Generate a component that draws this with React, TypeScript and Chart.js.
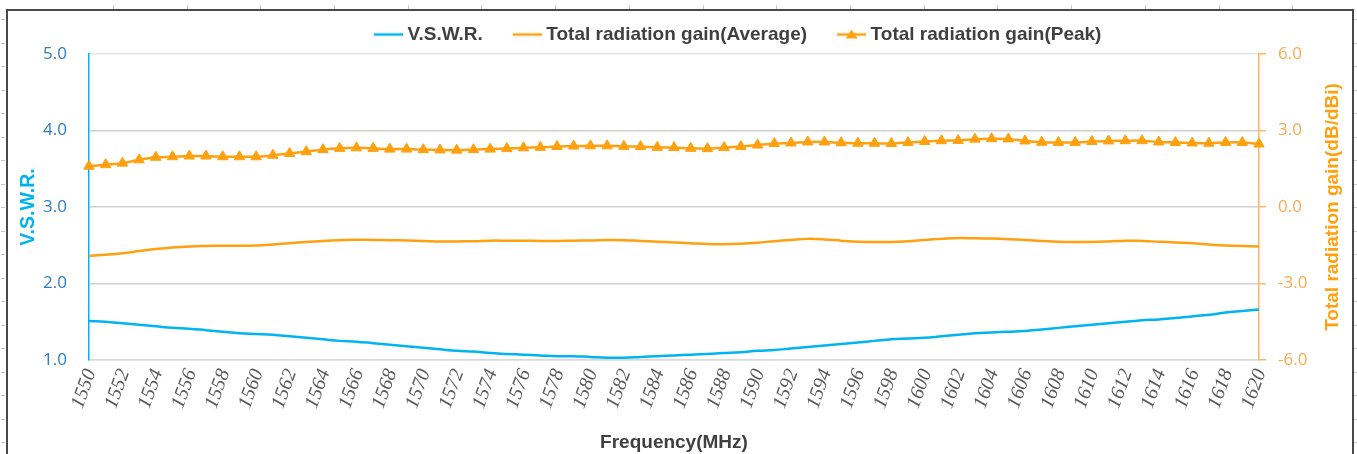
import React, { useEffect, useRef } from 'react';
import { Chart, registerables } from 'chart.js';

Chart.register(...registerables);

const FREQ = [
  1550, 1551, 1552, 1553, 1554, 1555, 1556, 1557, 1558, 1559,
  1560, 1561, 1562, 1563, 1564, 1565, 1566, 1567, 1568, 1569,
  1570, 1571, 1572, 1573, 1574, 1575, 1576, 1577, 1578, 1579,
  1580, 1581, 1582, 1583, 1584, 1585, 1586, 1587, 1588, 1589,
  1590, 1591, 1592, 1593, 1594, 1595, 1596, 1597, 1598, 1599,
  1600, 1601, 1602, 1603, 1604, 1605, 1606, 1607, 1608, 1609,
  1610, 1611, 1612, 1613, 1614, 1615, 1616, 1617, 1618, 1619,
  1620,
];

const VSWR = [
  1.51, 1.50, 1.48, 1.46, 1.44, 1.42, 1.41, 1.39, 1.37, 1.35,
  1.34, 1.33, 1.31, 1.29, 1.27, 1.25, 1.24, 1.22, 1.20, 1.18,
  1.16, 1.14, 1.12, 1.11, 1.09, 1.08, 1.07, 1.06, 1.05, 1.05,
  1.04, 1.03, 1.03, 1.04, 1.05, 1.06, 1.07, 1.08, 1.09, 1.10,
  1.12, 1.13, 1.15, 1.17, 1.19, 1.21, 1.23, 1.25, 1.27, 1.28,
  1.29, 1.31, 1.33, 1.35, 1.36, 1.37, 1.38, 1.40, 1.42, 1.44,
  1.46, 1.48, 1.50, 1.52, 1.53, 1.55, 1.57, 1.59, 1.62, 1.64,
  1.66,
];

const GAIN_AVG = [
  -1.92, -1.87, -1.81, -1.73, -1.65, -1.59, -1.55, -1.53, -1.52, -1.52,
  -1.51, -1.47, -1.42, -1.37, -1.33, -1.30, -1.28, -1.29, -1.30, -1.31,
  -1.33, -1.35, -1.35, -1.34, -1.32, -1.32, -1.32, -1.33, -1.33, -1.32,
  -1.31, -1.29, -1.30, -1.33, -1.36, -1.39, -1.42, -1.45, -1.46, -1.44,
  -1.40, -1.34, -1.29, -1.25, -1.27, -1.32, -1.36, -1.37, -1.37, -1.34,
  -1.29, -1.25, -1.22, -1.23, -1.24, -1.26, -1.29, -1.33, -1.36, -1.37,
  -1.37, -1.35, -1.32, -1.33, -1.36, -1.39, -1.42, -1.47, -1.51, -1.53,
  -1.55,
];

const GAIN_PEAK = [
  1.60, 1.66, 1.72, 1.85, 1.95, 1.97, 2.00, 2.00, 1.97, 1.97,
  1.97, 2.03, 2.10, 2.17, 2.25, 2.30, 2.32, 2.30, 2.27, 2.27,
  2.25, 2.24, 2.23, 2.25, 2.27, 2.29, 2.32, 2.34, 2.37, 2.39,
  2.40, 2.40, 2.38, 2.37, 2.34, 2.33, 2.30, 2.29, 2.33, 2.37,
  2.43, 2.49, 2.51, 2.55, 2.55, 2.52, 2.50, 2.50, 2.49, 2.53,
  2.57, 2.60, 2.61, 2.66, 2.68, 2.67, 2.59, 2.54, 2.53, 2.53,
  2.57, 2.59, 2.60, 2.60, 2.55, 2.53, 2.51, 2.50, 2.53, 2.53,
  2.47,
];

const SERIES_NAMES = ['V.S.W.R.', 'Total radiation gain(Average)', 'Total radiation gain(Peak)'];
const X_TITLE = 'Frequency(MHz)';
const Y_LEFT_TITLE = 'V.S.W.R.';
const Y_RIGHT_TITLE = 'Total radiation gain(dB/dBi)';

const CYAN = '#00B4F0';
const ORANGE = '#FFA00F';
const ORANGE_AXIS = '#FFB466';
const ORANGE_LABEL = '#FFA94D';
const BLUE_LABEL = '#2E7DC6';
const TEXT_DARK = '#404040';
const SANS_BOLD = '"Liberation Sans", Arial, sans-serif';

const LEGEND_PAD = 24;
const LEGEND_START = 368;

function makeLegendImage(color: string, triangle: boolean) {
  const c = document.createElement('canvas');
  c.width = 42;
  c.height = 14;
  const g = c.getContext('2d')!;
  g.strokeStyle = color;
  g.lineWidth = 2.5;
  g.beginPath();
  g.moveTo(12, 7);
  g.lineTo(41, 7);
  g.stroke();
  if (triangle) {
    g.fillStyle = color;
    g.beginPath();
    g.moveTo(26.5, 2);
    g.lineTo(32.5, 11);
    g.lineTo(20.5, 11);
    g.closePath();
    g.fill();
  }
  return c;
}

const legendShift = {
  id: 'legendShift',
  afterLayout(chart: any) {
    const lg = chart.legend;
    if (!lg || !lg.lineWidths) return;
    const cur = (lg.left + LEGEND_PAD + lg.right - lg.lineWidths[0]) / 2;
    const dx = LEGEND_START - cur;
    lg.left += dx;
    lg.right += dx;
  },
};

// right-axis title, reading bottom-to-top like the reference
const rightTitle = {
  id: 'rightTitle',
  afterDraw(chart: any) {
    const s = chart.scales.y1;
    if (!s) return;
    const ctx = chart.ctx;
    ctx.save();
    ctx.translate(s.right - 24, (chart.chartArea.top + chart.chartArea.bottom) / 2);
    ctx.rotate(-Math.PI / 2);
    ctx.textAlign = 'center';
    ctx.textBaseline = 'middle';
    ctx.font = `bold 19px ${SANS_BOLD}`;
    ctx.fillStyle = ORANGE;
    ctx.fillText(Y_RIGHT_TITLE, 0, 0);
    ctx.restore();
  },
};

export default function App() {
  const ref = useRef<HTMLCanvasElement | null>(null);

  useEffect(() => {
    if (!ref.current) return;
    const imgs = [
      makeLegendImage(CYAN, false),
      makeLegendImage(ORANGE, false),
      makeLegendImage(ORANGE, true),
    ];
    const chart = new Chart(ref.current, {
      type: 'line',
      data: {
        labels: FREQ.map(String),
        datasets: [
          {
            label: SERIES_NAMES[0],
            data: VSWR,
            yAxisID: 'y',
            borderColor: CYAN,
            backgroundColor: CYAN,
            borderWidth: 2.5,
            pointRadius: 0,
            tension: 0.4,
          },
          {
            label: SERIES_NAMES[1],
            data: GAIN_AVG,
            yAxisID: 'y1',
            borderColor: ORANGE,
            backgroundColor: ORANGE,
            borderWidth: 2.5,
            pointRadius: 0,
            tension: 0.4,
          },
          {
            label: SERIES_NAMES[2],
            data: GAIN_PEAK,
            yAxisID: 'y1',
            borderColor: ORANGE,
            backgroundColor: ORANGE,
            borderWidth: 2.5,
            pointStyle: 'triangle',
            pointRadius: 6,
            pointBorderWidth: 1,
            pointBackgroundColor: ORANGE,
            pointBorderColor: ORANGE,
            tension: 0.3,
          },
        ],
      },
      options: {
        responsive: false,
        animation: false,
        layout: { padding: { top: 1, left: 0, right: 0, bottom: 0 } },
        plugins: {
          tooltip: { enabled: false },
          legend: {
            display: true,
            position: 'top',
            labels: {
              usePointStyle: true,
              pointStyleWidth: 30,
              boxHeight: 12,
              padding: LEGEND_PAD,
              font: { family: SANS_BOLD, size: 19, weight: 'bold' },
              color: TEXT_DARK,
              generateLabels: () =>
                SERIES_NAMES.map((t, i) => ({
                  text: t,
                  pointStyle: imgs[i] as any,
                  fillStyle: 'rgba(0,0,0,0)',
                  strokeStyle: 'rgba(0,0,0,0)',
                  lineWidth: 0,
                  hidden: false,
                  datasetIndex: i,
                  fontColor: TEXT_DARK,
                })),
            },
          },
        },
        scales: {
          x: {
            type: 'category',
            afterFit: (s: any) => { s.height = 94; },
            grid: { display: false, drawTicks: false },
            border: { display: true, color: '#D9D9D9', width: 1.5 },
            ticks: {
              autoSkip: false,
              minRotation: 70,
              maxRotation: 70,
              padding: 6,
              labelOffset: 2,
              color: '#595959',
              font: { family: '"Liberation Serif", "Times New Roman", serif', size: 20, style: 'italic' },
              callback: (_v: any, i: number) => (i % 2 === 0 ? String(FREQ[i]) : ''),
            },
            title: {
              display: true,
              text: X_TITLE,
              color: TEXT_DARK,
              font: { family: SANS_BOLD, size: 19, weight: 'bold' },
              padding: { top: 0, bottom: 0 },
            },
          },
          y: {
            position: 'left',
            min: 1,
            max: 5,
            afterFit: (s: any) => { s.width = 89; },
            grid: {
              drawTicks: false,
              lineWidth: 1.5,
              color: (c: any) => (c.tick && (c.tick.value === 5 || c.tick.value === 1) ? '#E6E6E6' : '#D0D0D0'),
            },
            border: { display: true, color: CYAN, width: 1.5 },
            ticks: {
              stepSize: 1,
              padding: 22,
              color: BLUE_LABEL,
              font: { family: '"Open Sans", sans-serif', size: 17 },
              callback: (v: any) => Number(v).toFixed(1),
            },
            title: {
              display: true,
              text: Y_LEFT_TITLE,
              color: CYAN,
              font: { family: SANS_BOLD, size: 19.5, weight: 'bold' },
              padding: { top: 17, bottom: 0 },
            },
          },
          y1: {
            position: 'right',
            min: -6,
            max: 6,
            afterFit: (s: any) => { s.width = 98; },
            grid: {
              drawOnChartArea: false,
              drawTicks: true,
              tickLength: 7,
              color: ORANGE_AXIS,
              lineWidth: 1.5,
            },
            border: { display: true, color: ORANGE_AXIS, width: 1.5 },
            ticks: {
              stepSize: 3,
              padding: 12,
              color: ORANGE_LABEL,
              font: { family: '"Open Sans", sans-serif', size: 17 },
              callback: (v: any) => Number(v).toFixed(1),
            },
            title: { display: false, text: Y_RIGHT_TITLE },
          },
        },
      },
      plugins: [legendShift, rightTitle],
    });
    return () => chart.destroy();
  }, []);

  const topTicks = [] as number[];
  for (let x = 113; x < 1350; x += 73.7) topTicks.push(x);
  const sideTicks = [] as number[];
  for (let y = 19; y < 454; y += 23.5) sideTicks.push(y);

  return (
    <div style={{ position: 'fixed', left: 0, top: 0, width: 1357, height: 454, overflow: 'hidden', background: '#fff' }}>
      <canvas ref={ref} width={1357} height={454} style={{ position: 'absolute', left: 0, top: 0, display: 'block' }} />
      <div style={{ position: 'absolute', left: 6, top: 9, width: 1344, height: 470, border: '2px solid #4a4a4a', pointerEvents: 'none' }} />
      {topTicks.map((x, i) => (
        <div key={'t' + i} style={{ position: 'absolute', left: Math.round(x), top: 5, width: 1, height: 4, background: '#c8c8c8' }} />
      ))}
      {sideTicks.map((y, i) => (
        <div key={'l' + i} style={{ position: 'absolute', left: 1, top: Math.round(y), width: 4, height: 1, background: '#c8c8c8' }} />
      ))}
      {sideTicks.map((y, i) => (
        <div key={'r' + i} style={{ position: 'absolute', left: 1354, top: Math.round(y), width: 3, height: 1, background: '#c8c8c8' }} />
      ))}
    </div>
  );
}
